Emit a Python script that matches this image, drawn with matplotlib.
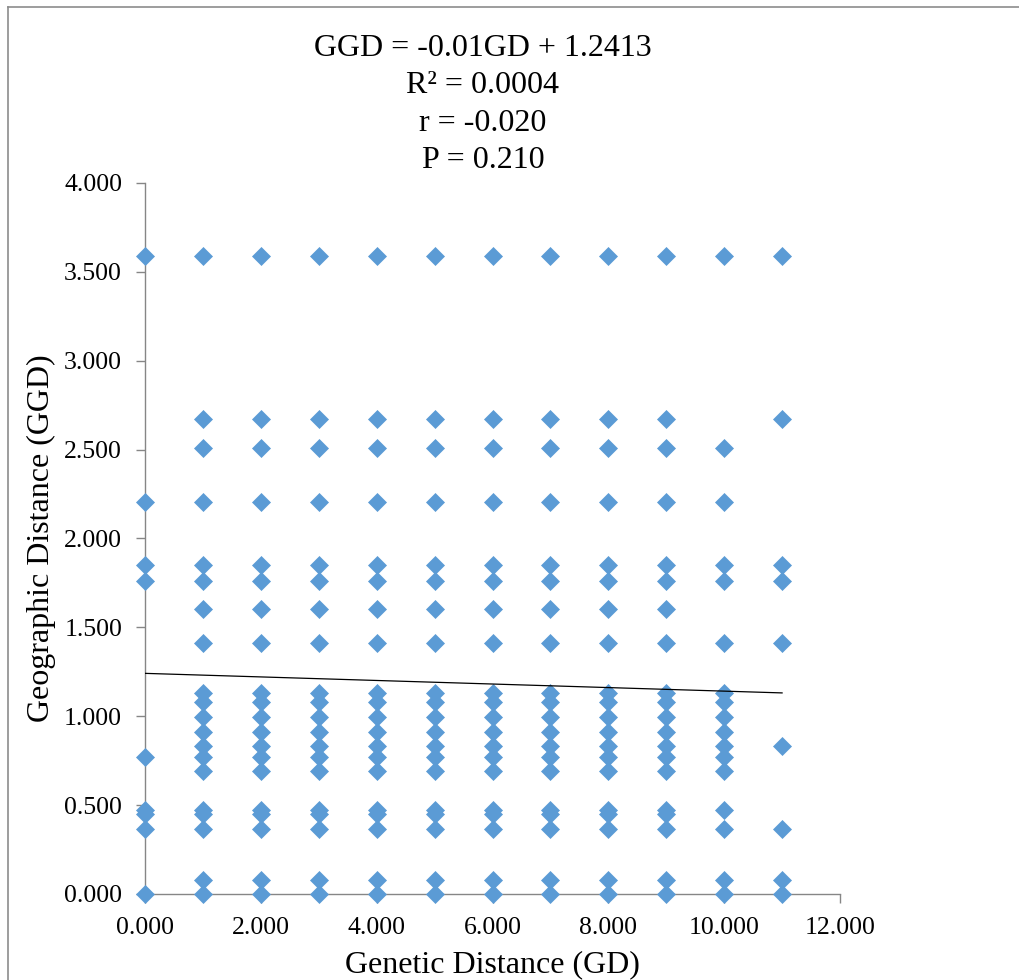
import matplotlib
matplotlib.use("Agg")
import matplotlib.pyplot as plt
from matplotlib.lines import Line2D

plt.rcParams['font.family'] = ['Liberation Serif', 'DejaVu Serif']

# ---- data (Geographic Distance values observed at each Genetic Distance) ----
ggd_gd0 = [3.590, 2.207, 1.850, 1.762, 0.770, 0.475, 0.452, 0.363, 0.000]
ggd_gd1_to_9 = [3.590, 2.673, 2.508, 2.207, 1.850, 1.762, 1.603, 1.410,
                1.130, 1.079, 0.995, 0.911, 0.832, 0.770, 0.690,
                0.475, 0.452, 0.363, 0.078, 0.000]
ggd_gd10 = [3.590, 2.508, 2.207, 1.850, 1.762, 1.410,
            1.130, 1.079, 0.995, 0.911, 0.832, 0.770, 0.690,
            0.475, 0.363, 0.078, 0.000]
ggd_gd11 = [3.590, 2.673, 1.850, 1.762, 1.410, 0.832, 0.363, 0.078, 0.000]
gd_columns = list(range(12))

trend_slope = -0.01
trend_intercept = 1.2413
trend_x = [0, 11]

title_lines = ["GGD = -0.01GD + 1.2413", "R\u00b2 = 0.0004", "r = -0.020", "P = 0.210"]
x_ticks = [0, 2, 4, 6, 8, 10, 12]
y_ticks = [0, 0.5, 1.0, 1.5, 2.0, 2.5, 3.0, 3.5, 4.0]

# ---- build point lists ----
gd_pts, ggd_pts = [], []
for gd in gd_columns:
    if gd == 0:
        vals = ggd_gd0
    elif gd == 10:
        vals = ggd_gd10
    elif gd == 11:
        vals = ggd_gd11
    else:
        vals = ggd_gd1_to_9
    gd_pts += [gd] * len(vals)
    ggd_pts += vals

W, H = 1019, 980
fig = plt.figure(figsize=(W / 100, H / 100), dpi=100)
ax = fig.add_axes([145 / W, 1 - 894 / H, (840 - 145) / W, (894 - 183) / H])

ax.plot(gd_pts, ggd_pts, linestyle='none', marker='D', markersize=9.5,
        color='#5B9BD5', markeredgecolor='#5B9BD5', markeredgewidth=0.5,
        zorder=3, clip_on=False)
trend_y = [trend_slope * x + trend_intercept for x in trend_x]
ax.plot(trend_x, trend_y, color='black', linewidth=0.9, zorder=4)

ax.set_xlim(0, 12)
ax.set_ylim(0, 4)
ax.set_xticks(x_ticks)
ax.set_yticks(y_ticks)
ax.set_xticklabels([f"{v:.3f}" for v in x_ticks])
ax.set_yticklabels([f"{v:.3f}" for v in y_ticks])

for s in ['top', 'right']:
    ax.spines[s].set_visible(False)
for s in ['left', 'bottom']:
    ax.spines[s].set_color('#868686')
    ax.spines[s].set_linewidth(1.0)
ax.tick_params(axis='both', direction='out', length=6.5, width=1.0,
               color='#868686', labelsize=18.5, labelcolor='black')
ax.tick_params(axis='y', pad=10)
ax.tick_params(axis='x', pad=10)

ax.set_xlabel("Genetic Distance (GD)", fontsize=23, labelpad=8)
ax.set_ylabel("Geographic Distance (GGD)", fontsize=23, labelpad=6)

baselines = [56, 93, 131, 168]
for txt, yb in zip(title_lines, baselines):
    fig.text(483 / W, 1 - yb / H, txt, ha='center', va='baseline', fontsize=23)

# outer chart-area border (top and left visible)
fig.add_artist(Line2D([8 / W, 1], [1 - 7 / H, 1 - 7 / H], transform=fig.transFigure,
                      color='#8c8c8c', linewidth=1.2))
fig.add_artist(Line2D([8 / W, 8 / W], [0, 1 - 7 / H], transform=fig.transFigure,
                      color='#8c8c8c', linewidth=1.2))

fig.savefig("out.png", dpi=100)
